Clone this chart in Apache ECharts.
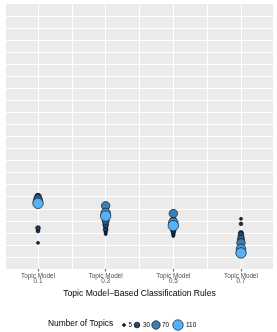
<!DOCTYPE html>
<html>
<head>
<meta charset="utf-8">
<script src="https://cdn.jsdelivr.net/npm/echarts@6/dist/echarts.min.js"></script>
<style>
html,body{margin:0;padding:0;background:#fff;}
#chart{width:277px;height:332px;}
</style>
</head>
<body>
<div id="chart"></div>
<script>
// ---- data ----
const categories = ['Topic Model\n0.1', 'Topic Model\n0.3', 'Topic Model\n0.5', 'Topic Model\n0.7'];
const topics = [5, 10, 20, 30, 50, 70, 90, 110];
const scoreTM01 = [2.17, 3.15, 3.4, 6.05, 5.95, 5.8, 5.6, 5.45];
const scoreTM03 = [2.9, 3.1, 3.3, 3.65, 4.0, 5.25, 4.65, 4.4];
const scoreTM05 = [2.75, 2.9, 3.1, 3.3, 4.0, 4.6, 3.85, 3.6];
const scoreTM07 = [4.17, 3.75, 3.0, 2.85, 2.5, 2.17, 1.67, 1.33];
const legendBreaks = [5, 30, 70, 110];
const legendTitle = 'Number of Topics';
const xTitle = 'Topic Model\u2212Based Classification Rules';

const scores = [scoreTM01, scoreTM03, scoreTM05, scoreTM07];
const tMin = 5, tMax = 110;
const lowC = [0x13, 0x2B, 0x43], highC = [0x56, 0xB1, 0xF7];
function colorFor(t) {
  const f = (t - tMin) / (tMax - tMin);
  const c = lowC.map((v, i) => Math.round(v + (highC[i] - v) * f));
  return 'rgb(' + c.join(',') + ')';
}
function sizeFor(t) {
  return Math.sqrt(9 + (t - tMin) * 101 / (tMax - tMin));
}

const points = [];
scores.forEach((arr, ci) => {
  arr.forEach((v, k) => points.push([ci + 1, v, topics[k]]));
});

const chart = echarts.init(document.getElementById('chart'), null, {renderer: 'canvas'});
const font = 'Liberation Sans, Arial, Helvetica, sans-serif';

const gridLeft = 6, gridRight = 4, gridTop = 4, gridBottom = 63;

const ySplitColors = [];
for (let i = 0; i <= 22; i++) ySplitColors.push(i === 0 || i === 22 ? 'rgba(0,0,0,0)' : '#ffffff');

const vLines = [1, 1.5, 2, 2.5, 3, 3.5, 4].map(x => ({xAxis: x}));

// legend graphics
const legendY = 325;
const legendGraphics = [
  {type: 'text', left: 48, top: legendY - 5, style: {text: legendTitle, font: '8.4px ' + font, fill: '#000'}}
];
const legendX = [124, 137, 156, 178];
const legendLabelX = [128.5, 143, 162, 186];
legendBreaks.forEach((b, i) => {
  legendGraphics.push({type: 'circle', shape: {cx: legendX[i], cy: legendY, r: sizeFor(b) / 2},
    style: {fill: colorFor(b), stroke: '#000', lineWidth: 0.6}});
  legendGraphics.push({type: 'text', x: legendLabelX[i], y: legendY, style: {text: String(b), font: '6.4px ' + font, fill: '#000', verticalAlign: 'middle'}});
});

chart.setOption({
  animation: false,
  backgroundColor: '#ffffff',
  grid: {left: gridLeft, right: gridRight, top: gridTop, bottom: gridBottom, show: true,
    backgroundColor: '#EBEBEB', borderWidth: 0, containLabel: false},
  xAxis: {
    type: 'value', min: 0.527, max: 4.473,
    axisLine: {show: false},
    axisTick: {show: true, customValues: [1, 2, 3, 4], length: 2.5, lineStyle: {color: '#333', width: 0.8}},
    axisLabel: {show: true, customValues: [1, 2, 3, 4], formatter: v => categories[Math.round(v) - 1] || '',
      color: '#4D4D4D', fontSize: 6.4, lineHeight: 5.6, fontFamily: font, margin: 4},
    splitLine: {show: false},
    name: xTitle, nameLocation: 'middle', nameGap: 19,
    nameTextStyle: {color: '#000', fontSize: 8.6, fontFamily: font}
  },
  yAxis: {
    type: 'value', min: 0, max: 22, interval: 1,
    axisLine: {show: false}, axisTick: {show: false}, axisLabel: {show: false},
    splitLine: {show: true, lineStyle: {color: ySplitColors, width: 1}}
  },
  series: [
    {
      type: 'scatter', data: [], silent: true, z: 1,
      markLine: {silent: true, symbol: ['none', 'none'], label: {show: false},
        lineStyle: {color: '#ffffff', width: 1, type: 'solid'}, data: vLines}
    },
    {
      type: 'scatter', z: 5,
      data: points,
      symbol: 'circle',
      symbolSize: d => sizeFor(d[2]),
      itemStyle: {color: p => colorFor(p.data[2]), borderColor: '#000', borderWidth: 0.6, opacity: 1}
    }
  ],
  graphic: legendGraphics
});
</script>
</body>
</html>
